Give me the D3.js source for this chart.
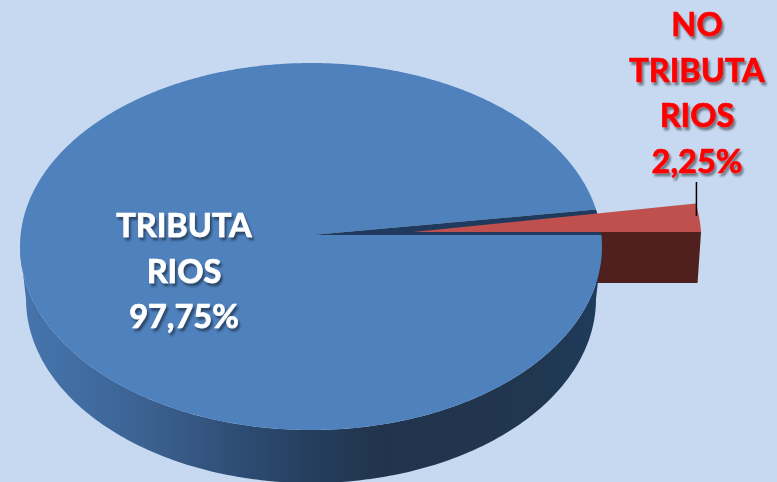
<!DOCTYPE html>
<html><head><meta charset="utf-8">
<script src="https://cdnjs.cloudflare.com/ajax/libs/d3/7.8.5/d3.min.js"></script>
<style>html,body{margin:0;padding:0;background:#c6d9f1;overflow:hidden}svg{display:block}</style>
</head><body>
<script>
const categories = ["TRIBUTARIOS", "NO TRIBUTARIOS"];
const values = [97.75, 2.25];
const labelLines = [["TRIBUTA", "RIOS", "97,75%"], ["NO", "TRIBUTA", "RIOS", "2,25%"]];

const W = 777, H = 482;
const svg = d3.select("body").append("svg").attr("width", W).attr("height", H);
svg.append("rect").attr("width", W).attr("height", H).attr("fill", "#c6d9f1");
const defs = svg.append("defs");

const wallGrad = defs.append("linearGradient").attr("id", "wall")
  .attr("gradientUnits", "userSpaceOnUse").attr("x1", 20).attr("x2", 602).attr("y1", 0).attr("y2", 0);
[[0, "#4674ac"], [0.1, "#416da3"], [0.22, "#3b6190"], [0.4, "#2c4a70"], [0.5, "#253e5e"], [0.62, "#22344d"], [0.88, "#21364f"], [1, "#1d3c5c"]]
  .forEach(([o, c]) => wallGrad.append("stop").attr("offset", o).attr("stop-color", c));

const shadow = defs.append("filter").attr("id", "sh")
  .attr("x", "-10%").attr("y", "-20%").attr("width", "120%").attr("height", "150%");
shadow.append("feGaussianBlur").attr("in", "SourceAlpha").attr("stdDeviation", 1.3).attr("result", "b");
shadow.append("feOffset").attr("in", "b").attr("dx", 2).attr("dy", 2.5).attr("result", "o");
shadow.append("feFlood").attr("flood-color", "#000").attr("flood-opacity", 0.45);
shadow.append("feComposite").attr("in2", "o").attr("operator", "in").attr("result", "s");
const mg = shadow.append("feMerge");
mg.append("feMergeNode").attr("in", "s");
mg.append("feMergeNode").attr("in", "SourceGraphic");

const arcs = d3.pie().sort(null).startAngle(Math.PI / 2).endAngle(Math.PI * 2.5)(values);
const blue = arcs[0], red = arcs[1];

// Perspective disc: an ellipse whose apex sits above its geometric centre.
const blueDisc = { ex: 311, ey: 246.5, rx: 291, ry: 183.5, ax: 312, ay: 235 };
const redDisc  = { ex: 412, ey: 243.5, rx: 289.5, ry: 205, ax: 413, ay: 232 };
const base = { ex: 311, ey: 299, rx: 285, ry: 184 };
const redBottom = 283, redBottomInset = 3.5;

function rim(disc, t) {
  const dx = Math.sin(t) * disc.rx, dy = -Math.cos(t) * disc.ry;
  const ox = (disc.ax - disc.ex) / disc.rx, oy = (disc.ay - disc.ey) / disc.ry;
  const ux = dx / disc.rx, uy = dy / disc.ry;
  const a = ux * ux + uy * uy, b = 2 * (ox * ux + oy * uy), c = ox * ox + oy * oy - 1;
  const k = (-b + Math.sqrt(b * b - 4 * a * c)) / (2 * a);
  return [disc.ax + k * dx, disc.ay + k * dy];
}
const sweep = (disc, a0, a1) => d3.range(a0, a1, Math.PI / 360).concat([a1]).map(t => rim(disc, t));
const oval = (e, t) => [e.ex + e.rx * Math.sin(t), e.ey - e.ry * Math.cos(t)];
const line = d3.line();
const wedge = (disc, d) => line([[disc.ax, disc.ay], ...sweep(disc, d.startAngle, d.endAngle)]) + "Z";

// red side wall along the lower cut edge
const rEnd = rim(redDisc, red.endAngle);
svg.append("path").attr("fill", "#4f201d").attr("d", line([
  [redDisc.ax, redDisc.ay], rEnd,
  [rEnd[0] - redBottomInset, redBottom], [redDisc.ax, redBottom]
]) + "Z");

// blue side wall: hull between top rim and base rim
const ts = d3.range(Math.PI / 2, Math.PI * 1.5 + 0.001, Math.PI / 180);
const wallPts = ts.map(t => oval(blueDisc, t))
  .concat(ts.slice().reverse().map(t => oval(base, t)));
svg.append("path").attr("fill", "url(#wall)").attr("d", line(wallPts) + "Z");

// tops
svg.append("path").attr("fill", "#4f81bd").attr("d", wedge(blueDisc, blue));
svg.append("path").attr("fill", "#1f3a5c").attr("d", wedge(blueDisc, red));
svg.append("path").attr("fill", "#c0504d").attr("d", wedge(redDisc, red));

// leader
const tip = rim(redDisc, red.startAngle);
svg.append("line").attr("x1", tip[0] + 0.5).attr("x2", tip[0] + 0.5).attr("y1", 182).attr("y2", 216)
  .attr("stroke", "#000").attr("stroke-width", 1.5);

function label(lines, x, y0, step, fill) {
  const t = svg.append("text").attr("font-family", "Lato, 'Open Sans', sans-serif")
    .attr("font-weight", 700).attr("font-size", 32.5).attr("text-anchor", "middle")
    .attr("fill", fill).attr("stroke", fill).attr("stroke-width", 0.7).attr("filter", "url(#sh)");
  lines.forEach((s, i) => t.append("tspan").attr("x", x).attr("y", y0 + i * step).text(s));
}
label(labelLines[0], 184, 237, 45.5, "#ffffff");
label(labelLines[1], 697, 36, 45.5, "#ff0000");
</script>
</body></html>
